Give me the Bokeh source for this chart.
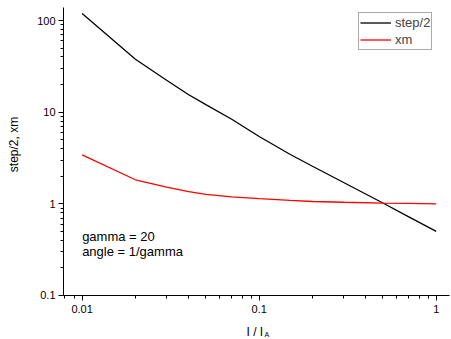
import math
from bokeh.plotting import figure
from bokeh.models import FixedTicker, Label, Legend, LegendItem, Range1d
from bokeh.embed import file_html
from bokeh.resources import INLINE

# data
x_vals = [0.01, 0.02, 0.03, 0.04, 0.05, 0.07, 0.1, 0.15, 0.2, 0.3, 0.5, 0.7, 1.0]
step_half = [119, 37.8, 22.3, 15.5, 12.1, 8.36, 5.43, 3.45, 2.57, 1.71, 1.02, 0.72, 0.5]
xm = [3.42, 1.83, 1.52, 1.36, 1.27, 1.19, 1.14, 1.09, 1.06, 1.04, 1.02, 1.01, 1.0]

x_major = [0.01, 0.1, 1]
x_minor = [0.008, 0.009] + [k * 0.01 for k in range(2, 10)] + [k * 0.1 for k in range(2, 10)]
y_major = [0.1, 1, 10, 100]
y_minor = [k * 0.1 for k in range(2, 10)] + [k * 1.0 for k in range(2, 10)] + [k * 10.0 for k in range(2, 10)]

x_axis_bounds = (0.00785, 1.19)
y_axis_bounds = (0.1, 138.6)

FONT = "Liberation Sans"
W, H = 451, 339

# the frame fills the whole canvas; the axes sit at fixed locations inside it
p = figure(width=W, height=H, x_axis_type="log", y_axis_type="log",
           x_range=Range1d(0.003459, 1.220), y_range=Range1d(0.0331, 165.3),
           output_backend="svg", toolbar_location=None,
           min_border_left=0, min_border_right=0, min_border_top=0, min_border_bottom=0)
p.outline_line_color = None
p.xgrid.visible = False
p.ygrid.visible = False

r1 = p.line(x_vals, step_half, line_color="black", line_width=1.3)
r2 = p.line(x_vals, xm, line_color="red", line_width=1.3)

for ax, major, minor in ((p.xaxis[0], x_major, x_minor), (p.yaxis[0], y_major, y_minor)):
    ax.ticker = FixedTicker(ticks=major, minor_ticks=minor)
    ax.major_label_overrides = {v: (f"{v:g}") for v in major}
    ax.major_tick_in = 0
    ax.major_tick_out = 5
    ax.minor_tick_in = 0
    ax.minor_tick_out = 3
    ax.axis_line_color = "black"
    ax.major_tick_line_color = "black"
    ax.minor_tick_line_color = "black"
    ax.major_label_text_font = FONT
    ax.major_label_text_font_size = "11px"
    ax.major_label_text_color = "black"

p.xaxis[0].fixed_location = y_axis_bounds[0]
p.xaxis[0].bounds = x_axis_bounds
p.yaxis[0].fixed_location = x_axis_bounds[0]
p.yaxis[0].bounds = y_axis_bounds
p.yaxis[0].major_label_standoff = 3

def lab(text, x, y, size, **kw):
    p.add_layout(Label(x=x, y=y, x_units="screen", y_units="screen", text=text,
                       text_font=FONT, text_font_size=size, text_color="black", **kw))

# axis titles (screen units measured from the frame's bottom-left corner)
lab("I / I", 246, H - 331, "12px", text_align="left", text_baseline="alphabetic")
lab("A", 264, H - 334, "7px", text_align="left", text_baseline="alphabetic")
lab("step/2, xm", 13, H - 144, "12px", text_align="center", text_baseline="middle",
    angle=math.pi / 2)

for txt, yy in (("gamma = 20", 0.437), ("angle = 1/gamma", 0.30)):
    p.add_layout(Label(x=0.01, y=yy, text=txt, text_font=FONT, text_font_size="13px",
                       text_color="black", text_baseline="middle", text_align="left"))

legend = Legend(items=[LegendItem(label="step/2", renderers=[r1]),
                       LegendItem(label="xm", renderers=[r2])],
                location=(358, H - 50), padding=1, spacing=0, margin=0,
                glyph_width=31, glyph_height=17, label_height=17, label_standoff=4,
                label_text_font=FONT, label_text_font_size="13px",
                border_line_color="#555555", border_line_width=1,
                background_fill_alpha=1)
p.add_layout(legend)

open("out.html", "w").write(file_html(p, INLINE))
